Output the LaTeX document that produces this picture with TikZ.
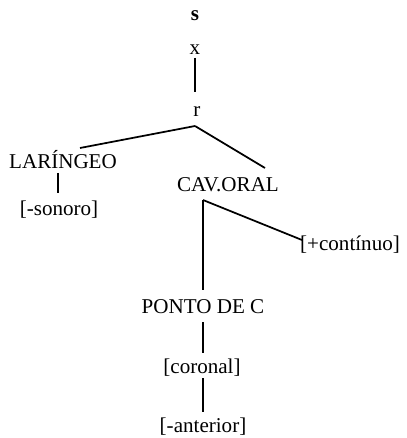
\documentclass[tikz,border=0pt]{standalone}
\usepackage{fontspec}
\setmainfont{Liberation Serif}
\usetikzlibrary{calc}
\begin{document}
\begin{tikzpicture}[x=0.75pt,y=-0.75pt,
  lbl/.style={inner sep=0pt,font=\fontsize{15.8}{18}\selectfont},
  edge/.style={line width=1.3pt}]
\useasboundingbox (0,0) rectangle (406,438);
\node[lbl,font=\fontsize{15.8}{18}\selectfont\bfseries] (s) at (195,16) {s};
\node[lbl] (x) at (195,50) {x};
\node[lbl] (r) at (197,112) {r};
\node[lbl] (lar) at (63,160) {LARÍNGEO};
\node[lbl] (son) at (59,210) {[-sonoro]};
\node[lbl] (cav) at (228,185) {CAV.ORAL};
\node[lbl] (cont) at (350,245) {[+contínuo]};
\node[lbl] (ponto) at (203,307) {PONTO DE C};
\node[lbl] (cor) at (202,368) {[coronal]};
\node[lbl] (ant) at (203,427) {[-anterior]};
\coordinate (xb) at ($(x.center)+(0,8)$);
\coordinate (rt) at ($(r.center)+(-2,-20)$);
\coordinate (rb) at ($(r.center)+(-2,14)$);
\coordinate (lart) at ($(lar.center)+(17,-12)$);
\coordinate (cavt) at ($(cav.center)+(37,-17)$);
\coordinate (cavb) at ($(cav.center)+(-25,15)$);
\coordinate (pontot) at ($(ponto.center)+(0,-17)$);
\coordinate (contl) at ($(cont.center)+(-48,-5)$);
\coordinate (larb) at ($(lar.center)+(-5,13)$);
\coordinate (sont) at ($(son.center)+(-1,-17)$);
\draw[edge] (xb) -- (rt);
\draw[edge] (rb) -- (lart);
\draw[edge] (rb) -- (cavt);
\draw[edge] (cavb) -- (pontot);
\draw[edge] (cavb) -- (contl);
\draw[edge] (larb) -- (sont);
\draw[edge] ($(ponto.center)+(0,15)$) -- ($(cor.center)+(1,-15)$);
\draw[edge] ($(cor.center)+(1,10)$) -- ($(ant.center)+(0,-15)$);
\end{tikzpicture}
\end{document}
